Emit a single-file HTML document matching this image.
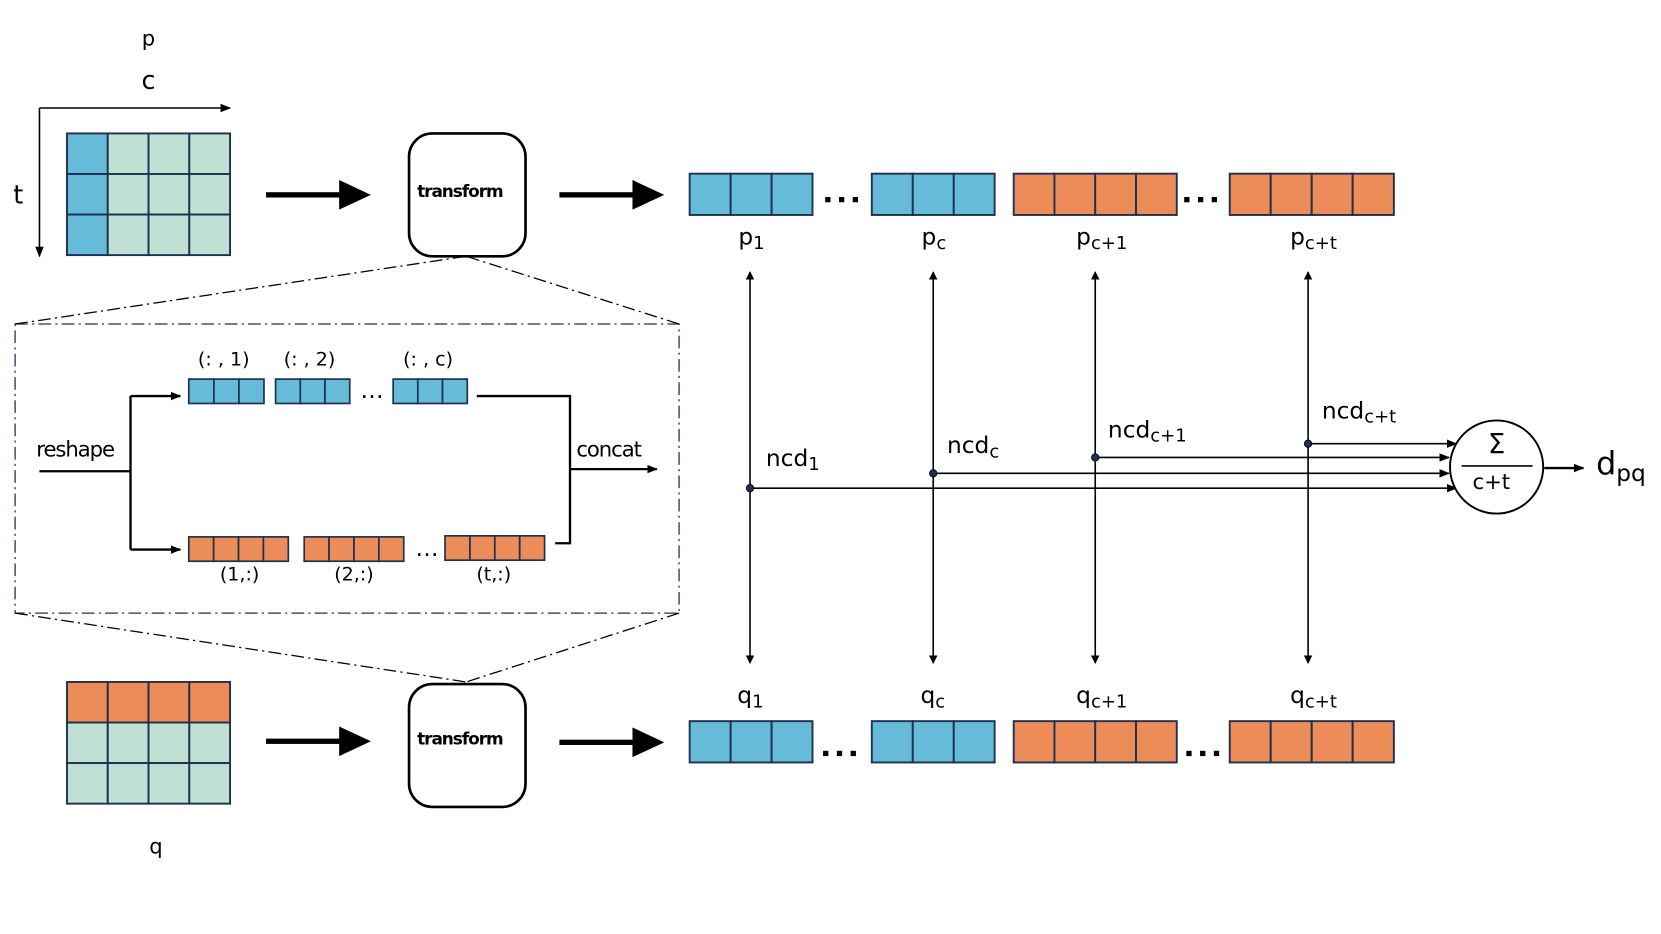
<!DOCTYPE html>
<html><head><meta charset="utf-8"><style>
html,body{margin:0;padding:0;background:#fff;}
svg{display:block;}
text{font-family:"DejaVu Sans","Liberation Sans",sans-serif;fill:#000;}
</style></head><body>
<svg width="1661" height="934" viewBox="0 0 1568 882" xmlns="http://www.w3.org/2000/svg">
<defs>
<marker id="ah" markerWidth="10" markerHeight="8" refX="9" refY="4" orient="auto" markerUnits="userSpaceOnUse"><path d="M0,0 L10,4 L0,8 Z" fill="#000"/></marker>
<marker id="as" markerWidth="8" markerHeight="8" refX="7" refY="4" orient="auto-start-reverse" markerUnits="userSpaceOnUse"><path d="M0,0 L8,4 L0,8 Z" fill="#000"/></marker>
</defs>

<text x="140" y="43" font-size="20" text-anchor="middle">p</text>
<text x="140" y="84" font-size="24" text-anchor="middle">c</text>
<text x="17" y="192" font-size="24" text-anchor="middle">t</text>
<line x1="37" y1="102" x2="217" y2="102" stroke="#000" stroke-width="1.5" marker-end="url(#ah)"/>
<line x1="37" y1="102" x2="37" y2="242" stroke="#000" stroke-width="1.5" marker-end="url(#ah)"/>

<g stroke="#1f3050" stroke-width="1.8">
<rect x="63" y="126" width="38.5" height="38.3" fill="#66bbd9"/><rect x="101.5" y="126" width="38.5" height="38.3" fill="#c0e0d4"/><rect x="140" y="126" width="38.5" height="38.3" fill="#c0e0d4"/><rect x="178.5" y="126" width="38.5" height="38.3" fill="#c0e0d4"/>
<rect x="63" y="164.3" width="38.5" height="38.3" fill="#66bbd9"/><rect x="101.5" y="164.3" width="38.5" height="38.3" fill="#c0e0d4"/><rect x="140" y="164.3" width="38.5" height="38.3" fill="#c0e0d4"/><rect x="178.5" y="164.3" width="38.5" height="38.3" fill="#c0e0d4"/>
<rect x="63" y="202.6" width="38.5" height="38.3" fill="#66bbd9"/><rect x="101.5" y="202.6" width="38.5" height="38.3" fill="#c0e0d4"/><rect x="140" y="202.6" width="38.5" height="38.3" fill="#c0e0d4"/><rect x="178.5" y="202.6" width="38.5" height="38.3" fill="#c0e0d4"/>
</g>
<g stroke="#1f3050" stroke-width="1.8">
<rect x="63" y="644" width="38.5" height="38.3" fill="#ec8c58"/><rect x="101.5" y="644" width="38.5" height="38.3" fill="#ec8c58"/><rect x="140" y="644" width="38.5" height="38.3" fill="#ec8c58"/><rect x="178.5" y="644" width="38.5" height="38.3" fill="#ec8c58"/>
<rect x="63" y="682.3" width="38.5" height="38.3" fill="#c0e0d4"/><rect x="101.5" y="682.3" width="38.5" height="38.3" fill="#c0e0d4"/><rect x="140" y="682.3" width="38.5" height="38.3" fill="#c0e0d4"/><rect x="178.5" y="682.3" width="38.5" height="38.3" fill="#c0e0d4"/>
<rect x="63" y="720.6" width="38.5" height="38.3" fill="#c0e0d4"/><rect x="101.5" y="720.6" width="38.5" height="38.3" fill="#c0e0d4"/><rect x="140" y="720.6" width="38.5" height="38.3" fill="#c0e0d4"/><rect x="178.5" y="720.6" width="38.5" height="38.3" fill="#c0e0d4"/>
</g>
<text x="147" y="806" font-size="20" text-anchor="middle">q</text>

<g fill="#000">
<rect x="251" y="181.5" width="72" height="5"/><path d="M320,170 L350,184 L320,198 Z"/>
<rect x="528" y="181.5" width="72" height="5"/><path d="M597,170 L627,184 L597,198 Z"/>
<rect x="251" y="697.5" width="72" height="5"/><path d="M320,686 L350,700 L320,714 Z"/>
<rect x="528" y="698.5" width="72" height="5"/><path d="M597,687 L627,701 L597,715 Z"/>
</g>

<rect x="386" y="126" width="110" height="116" rx="22" fill="#fff" stroke="#000" stroke-width="2.5"/>
<text x="434" y="186" font-size="16" font-weight="bold" text-anchor="middle" letter-spacing="-1">transform</text>
<rect x="386" y="646" width="110" height="116" rx="22" fill="#fff" stroke="#000" stroke-width="2.5"/>
<text x="434" y="703" font-size="16" font-weight="bold" text-anchor="middle" letter-spacing="-1">transform</text>

<g stroke="#1f3050" stroke-width="1.2" fill="none" stroke-dasharray="12,4,2,4">
<rect x="14" y="306" width="627" height="273"/>
</g>
<g stroke="#000" stroke-width="1.2" fill="none" stroke-dasharray="12,4,2,4">
<line x1="14" y1="306" x2="440" y2="242"/><line x1="641" y1="306" x2="440" y2="242"/>
<line x1="14" y1="579" x2="440" y2="644"/><line x1="641" y1="579" x2="440" y2="644"/>
</g>

<text x="34" y="431" font-size="20" letter-spacing="-1">reshape</text>
<g stroke="#000" stroke-width="2.2" fill="none">
<polyline points="37,445 123,445"/>
<polyline points="123,374 123,519"/>
<line x1="123" y1="374" x2="170" y2="374" marker-end="url(#ah)"/>
<line x1="123" y1="519" x2="170" y2="519" marker-end="url(#ah)"/>
<polyline points="450,374 538,374 538,513 524,513"/>
<line x1="538" y1="443" x2="620" y2="443" marker-end="url(#ah)"/>
</g>
<text x="544" y="431" font-size="20" letter-spacing="-1">concat</text>
<g stroke="#1f3050" stroke-width="1.6" fill="#66bbd9">
<rect x="178" y="358" width="23.7" height="23"/><rect x="201.7" y="358" width="23.7" height="23"/><rect x="225.4" y="358" width="23.6" height="23"/>
<rect x="260" y="358" width="23.3" height="23"/><rect x="283.3" y="358" width="23.3" height="23"/><rect x="306.6" y="358" width="23.4" height="23"/>
<rect x="371" y="358" width="23.3" height="23"/><rect x="394.3" y="358" width="23.3" height="23"/><rect x="417.6" y="358" width="23.4" height="23"/>
</g>
<g stroke="#1f3050" stroke-width="1.6" fill="#ec8c58">
<rect x="178" y="507" width="23.5" height="23"/><rect x="201.5" y="507" width="23.5" height="23"/><rect x="225" y="507" width="23.5" height="23"/><rect x="248.5" y="507" width="23.5" height="23"/>
<rect x="287" y="507" width="23.5" height="23"/><rect x="310.5" y="507" width="23.5" height="23"/><rect x="334" y="507" width="23.5" height="23"/><rect x="357.5" y="507" width="23.5" height="23"/>
<rect x="420" y="506" width="23.5" height="23"/><rect x="443.5" y="506" width="23.5" height="23"/><rect x="467" y="506" width="23.5" height="23"/><rect x="490.5" y="506" width="23.5" height="23"/>
</g>
<g font-size="18" text-anchor="middle">
<text x="211" y="345">(: , 1)</text><text x="292" y="345">(: , 2)</text><text x="404" y="345">(: , c)</text>
<text x="351" y="376" font-size="22">…</text><text x="403" y="525" font-size="22">…</text>
<text x="226" y="548">(1,:)</text><text x="334" y="548">(2,:)</text><text x="466" y="548">(t,:)</text>
</g>

<g stroke="#1f3050" stroke-width="1.8">
<g fill="#66bbd9">
<rect x="651" y="164" width="38.7" height="39"/><rect x="689.7" y="164" width="38.7" height="39"/><rect x="728.4" y="164" width="38.6" height="39"/>
<rect x="823" y="164" width="38.7" height="39"/><rect x="861.7" y="164" width="38.7" height="39"/><rect x="900.4" y="164" width="38.6" height="39"/>
<rect x="651" y="681" width="38.7" height="39"/><rect x="689.7" y="681" width="38.7" height="39"/><rect x="728.4" y="681" width="38.6" height="39"/>
<rect x="823" y="681" width="38.7" height="39"/><rect x="861.7" y="681" width="38.7" height="39"/><rect x="900.4" y="681" width="38.6" height="39"/>
</g>
<g fill="#ec8c58">
<rect x="957" y="164" width="38.5" height="39"/><rect x="995.5" y="164" width="38.5" height="39"/><rect x="1034" y="164" width="38.5" height="39"/><rect x="1072.5" y="164" width="38.5" height="39"/>
<rect x="1161" y="164" width="38.7" height="39"/><rect x="1199.7" y="164" width="38.7" height="39"/><rect x="1238.4" y="164" width="38.7" height="39"/><rect x="1277.1" y="164" width="38.9" height="39"/>
<rect x="957" y="681" width="38.5" height="39"/><rect x="995.5" y="681" width="38.5" height="39"/><rect x="1034" y="681" width="38.5" height="39"/><rect x="1072.5" y="681" width="38.5" height="39"/>
<rect x="1161" y="681" width="38.7" height="39"/><rect x="1199.7" y="681" width="38.7" height="39"/><rect x="1238.4" y="681" width="38.7" height="39"/><rect x="1277.1" y="681" width="38.9" height="39"/>
</g>
</g>
<g fill="#000">
<rect x="779" y="186" width="5" height="5"/><rect x="792" y="186" width="5" height="5"/><rect x="805" y="186" width="5" height="5"/>
<rect x="1118" y="186" width="5" height="5"/><rect x="1131" y="186" width="5" height="5"/><rect x="1144" y="186" width="5" height="5"/>
<rect x="777" y="709" width="5" height="5"/><rect x="790" y="709" width="5" height="5"/><rect x="803" y="709" width="5" height="5"/>
<rect x="1120" y="709" width="5" height="5"/><rect x="1133" y="709" width="5" height="5"/><rect x="1146" y="709" width="5" height="5"/>
</g>

<g font-size="22">
<text x="697" y="231">p<tspan font-size="17" dy="4">1</tspan></text>
<text x="870" y="231">p<tspan font-size="17" dy="4">c</tspan></text>
<text x="1016" y="231">p<tspan font-size="17" dy="4">c+1</tspan></text>
<text x="1218" y="231">p<tspan font-size="17" dy="4">c+t</tspan></text>
<text x="696" y="664">q<tspan font-size="17" dy="4">1</tspan></text>
<text x="869" y="664">q<tspan font-size="17" dy="4">c</tspan></text>
<text x="1016" y="664">q<tspan font-size="17" dy="4">c+1</tspan></text>
<text x="1218" y="664">q<tspan font-size="17" dy="4">c+t</tspan></text>
<text x="723" y="440">ncd<tspan font-size="17" dy="4">1</tspan></text>
<text x="894" y="428">ncd<tspan font-size="17" dy="4">c</tspan></text>
<text x="1046" y="413">ncd<tspan font-size="17" dy="4">c+1</tspan></text>
<text x="1248" y="395">ncd<tspan font-size="17" dy="4">c+t</tspan></text>
</g>

<g stroke="#000" stroke-width="1.5">
<line x1="708" y1="257" x2="708" y2="626" marker-start="url(#as)" marker-end="url(#as)"/>
<line x1="881" y1="257" x2="881" y2="626" marker-start="url(#as)" marker-end="url(#as)"/>
<line x1="1034" y1="257" x2="1034" y2="626" marker-start="url(#as)" marker-end="url(#as)"/>
<line x1="1235" y1="257" x2="1235" y2="626" marker-start="url(#as)" marker-end="url(#as)"/>
<line x1="708" y1="461" x2="1375" y2="461" marker-end="url(#ah)"/>
<line x1="881" y1="447" x2="1368" y2="447" marker-end="url(#ah)"/>
<line x1="1034" y1="432" x2="1368" y2="432" marker-end="url(#ah)"/>
<line x1="1235" y1="419" x2="1375" y2="419" marker-end="url(#ah)"/>
</g>
<g fill="#1f3050" stroke="#000" stroke-width="0.8">
<circle cx="708" cy="461" r="3.5"/><circle cx="881" cy="447" r="3.5"/><circle cx="1034" cy="432" r="3.5"/><circle cx="1235" cy="419" r="3.5"/>
</g>

<circle cx="1413" cy="441" r="44" fill="#fff" stroke="#000" stroke-width="1.8"/>
<text x="1413" y="428" font-size="26" text-anchor="middle">Σ</text>
<line x1="1380" y1="440" x2="1447" y2="440" stroke="#000" stroke-width="1.5"/>
<text x="1408" y="462" font-size="20" text-anchor="middle">c+t</text>
<line x1="1458" y1="442" x2="1495" y2="442" stroke="#000" stroke-width="2.2" marker-end="url(#ah)"/>
<text x="1507" y="448" font-size="30">d<tspan font-size="22" dy="6">pq</tspan></text>
</svg>
</body></html>
